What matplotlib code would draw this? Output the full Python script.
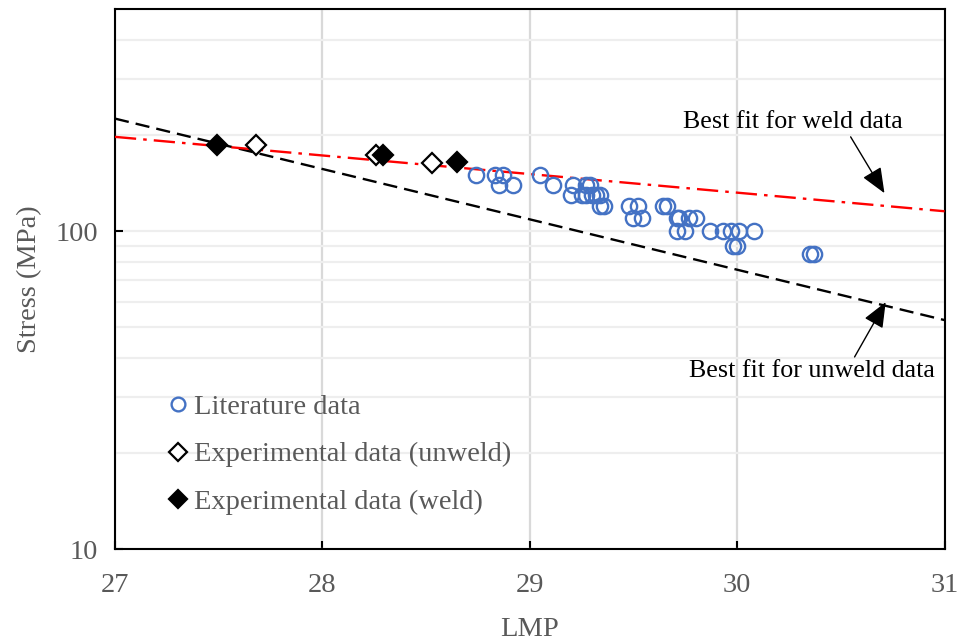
import numpy as np
import matplotlib.pyplot as plt
from matplotlib.ticker import FixedLocator, FixedFormatter

## ----------------------------- DATA -----------------------------------##
## literature data (LMP, stress in MPa)
lit_lmp = [28.74, 28.83, 28.87, 29.05,
           28.85, 28.92, 29.11, 29.21, 29.27, 29.29,
           29.20, 29.25, 29.27, 29.30, 29.32, 29.34,
           29.34, 29.36, 29.48, 29.52, 29.64, 29.66,
           29.50, 29.54, 29.71, 29.72, 29.77, 29.80,
           29.71, 29.75, 29.87, 29.93, 29.97, 30.01, 30.08,
           29.98, 30.00,
           30.35, 30.37]
lit_stress = [150, 150, 150, 150,
              140, 140, 140, 140, 140, 140,
              130, 130, 130, 130, 130, 130,
              120, 120, 120, 120, 120, 120,
              110, 110, 110, 110, 110, 110,
              100, 100, 100, 100, 100, 100, 100,
              90, 90,
              85, 85]

## experimental data
unweld_lmp = [27.68, 28.26, 28.53]
unweld_stress = [186, 173, 164]
weld_lmp = [27.49, 28.29, 28.65]
weld_stress = [186, 173, 165]

## best fit lines (end points, straight on log axis)
fit_lmp = [27, 31]
fit_unweld = [226, 52.5]
fit_weld = [198, 115.5]

## ----------------------------- PLOT -----------------------------------##
plt.rcParams['font.family'] = 'Liberation Serif'
grey = '#595959'
fs = 20.5

fig = plt.figure(figsize=(9.58, 6.41), dpi=100)
ax = fig.add_axes([0.120, 0.1435, 0.866, 0.8425])

ax.plot(fit_lmp, fit_unweld, '--', color='black', lw=1.7, dashes=(6, 3), zorder=3)
ax.plot(fit_lmp, fit_weld, '-.', color='red', lw=1.7, dashes=(9, 3, 1.5, 3), zorder=3)

ax.plot(lit_lmp, lit_stress, 'o', ls='none', mfc='none', mec='#4472C4', mew=1.7,
        ms=11, label='Literature data', zorder=4)
ax.plot(unweld_lmp, unweld_stress, 'D', ls='none', mfc='white', mec='black', mew=1.6,
        ms=10, label='Experimental data (unweld)', zorder=5)
ax.plot(weld_lmp, weld_stress, 'D', ls='none', mfc='black', mec='black', mew=1.6,
        ms=10, label='Experimental data (weld)', zorder=5)

ax.set_yscale('log')
ax.set_xlim(27, 31)
ax.set_ylim(10, 500)

ax.xaxis.set_major_locator(FixedLocator([27, 28, 29, 30, 31]))
ax.yaxis.set_major_locator(FixedLocator([10, 100]))
ax.yaxis.set_major_formatter(FixedFormatter(['10', '100']))
ax.yaxis.set_minor_locator(FixedLocator([20, 30, 40, 50, 60, 70, 80, 90, 200, 300, 400, 500]))

ax.grid(True, axis='x', which='major', color='#d9d9d9', lw=1.6, zorder=0)
ax.grid(True, axis='y', which='both', color='#eeeeee', lw=1.6, zorder=0)
ax.set_axisbelow(True)

ax.tick_params(axis='both', which='major', direction='in', length=6, width=1.5,
               labelsize=fs, labelcolor=grey)
ax.tick_params(axis='x', pad=17)
ax.tick_params(axis='y', pad=12)
ax.tick_params(axis='y', which='minor', length=0)
for s in ax.spines.values():
    s.set_linewidth(1.5)

ax.set_xlabel('LMP', fontsize=fs, color=grey, labelpad=14)
ax.set_ylabel('Stress (MPa)', fontsize=fs, color=grey, labelpad=10)

leg = ax.legend(loc='upper left', bbox_to_anchor=(0.031, 0.334), frameon=False,
                fontsize=fs, handletextpad=0.18, labelspacing=0.75, markerscale=0.9,
                handlelength=0.8)
for t in leg.get_texts():
    t.set_color(grey)

## annotations
arrow = dict(arrowstyle='-|>,head_length=0.6,head_width=0.25', color='black', lw=1,
             mutation_scale=26, shrinkA=0, shrinkB=0)
ax.text(30.267, 220, 'Best fit for weld data', ha='center', va='center', fontsize=18.7)
ax.annotate('', xy=(30.71, 131.7), xytext=(30.547, 198), arrowprops=arrow)
ax.text(30.359, 36.3, 'Best fit for unweld data', ha='center', va='center', fontsize=18.7)
ax.annotate('', xy=(30.716, 59.8), xytext=(30.566, 40.2), arrowprops=arrow)

fig.savefig('out.png', dpi=100)
